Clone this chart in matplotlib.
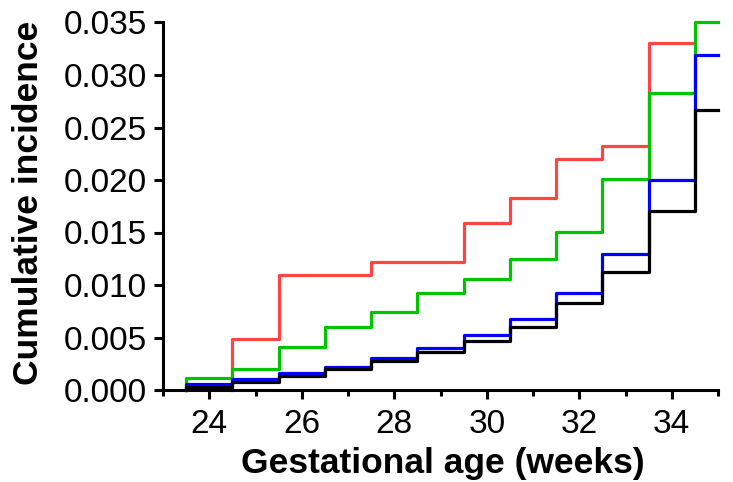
import numpy as np
import matplotlib
matplotlib.use("Agg")
import matplotlib.pyplot as plt
from matplotlib.ticker import MultipleLocator, FormatStrFormatter

plt.rcParams['font.family'] = ['Liberation Sans', 'DejaVu Sans']

# [DATA] ----------------------------------------------------------------------
# step starts (weeks) and cumulative incidence on each interval
weeks = [23.5, 24.5, 25.5, 26.5, 27.5, 28.5, 29.5, 30.5, 31.5, 32.5, 33.5, 34.5]
week_end = 35.0

red_weeks = weeks[1:11]
red = [0.00486, 0.01095, 0.01095, 0.01216, 0.01216, 0.01587, 0.01825,
       0.02196, 0.02323, 0.03307]
red_end = 34.5

green = [0.00117, 0.00197, 0.00413, 0.00603, 0.00746, 0.00920, 0.01054,
         0.01244, 0.01501, 0.02009, 0.02830, 0.03500]
blue = [0.00057, 0.00102, 0.00165, 0.00222, 0.00302, 0.00397, 0.00524,
        0.00676, 0.00926, 0.01295, 0.02000, 0.03190]
black = [0.00032, 0.00073, 0.00136, 0.00197, 0.00276, 0.00360, 0.00470,
         0.00597, 0.00831, 0.01127, 0.01707, 0.02667]

x_ticks = [24, 26, 28, 30, 32, 34]
x_label = "Gestational age (weeks)"
y_label = "Cumulative incidence"

# [PLOT] ----------------------------------------------------------------------
fig = plt.figure(figsize=(7.33, 4.82), dpi=100)
ax = fig.add_axes([163 / 733, 92 / 482, 555 / 733, 367.5 / 482])


def draw_steps(starts, vals, end, color):
    xs = [starts[0]] + list(starts) + [end]
    ys = [0.0] + list(vals) + [vals[-1]]
    ax.step(xs, ys, where='post', color=color, lw=2.3, clip_on=False)


draw_steps(red_weeks, red, red_end, '#ff4444')
draw_steps(weeks, green, week_end, '#00c400')
draw_steps(weeks, blue, week_end, '#0000ff')
draw_steps(weeks, black, week_end, '#000000')

ax.set_xlim(23, 35)
ax.set_ylim(0, 0.035)
ax.set_xticks(x_ticks)
ax.xaxis.set_minor_locator(MultipleLocator(1))
ax.yaxis.set_major_locator(MultipleLocator(0.005))
ax.yaxis.set_major_formatter(FormatStrFormatter('%.3f'))

for side in ['top', 'right']:
    ax.spines[side].set_visible(False)
for side in ['left', 'bottom']:
    ax.spines[side].set_linewidth(2.2)

ax.tick_params(axis='both', which='major', labelsize=24, width=2.2, length=6.5)
ax.tick_params(axis='x', which='minor', width=2.2, length=4)
ax.tick_params(axis='x', which='major', pad=7)
ax.tick_params(axis='y', which='major', pad=5)

ax.set_xlabel(x_label, fontsize=25.5, fontweight='bold')
ax.set_ylabel(y_label, fontsize=25.5, fontweight='bold')
ax.xaxis.set_label_coords(0.504, -0.155)
ax.yaxis.set_label_coords(-0.213, 0.51)

fig.savefig("out.png", dpi=100)
